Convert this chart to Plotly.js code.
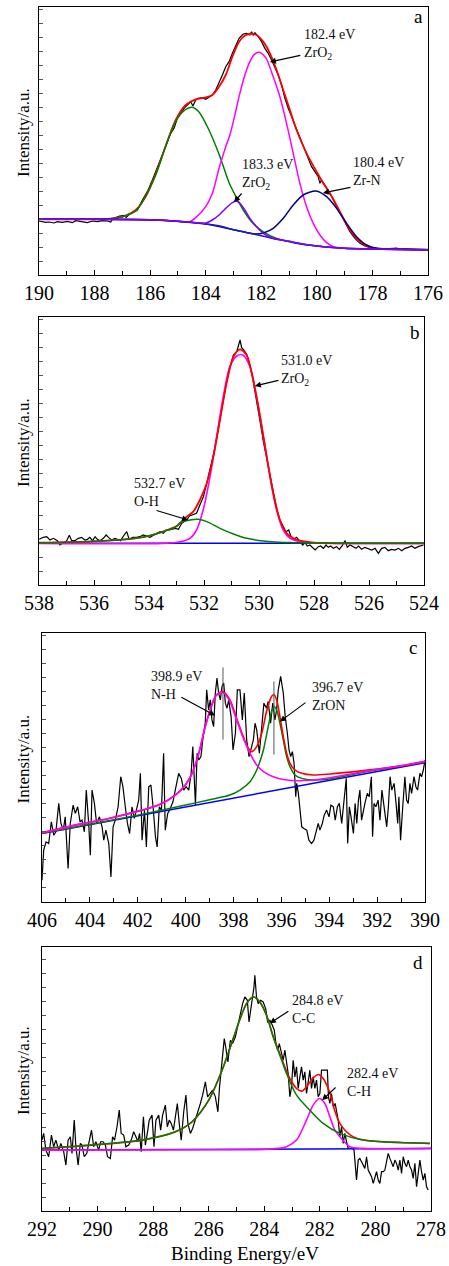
<!DOCTYPE html>
<html><head><meta charset="utf-8">
<script src="https://cdn.plot.ly/plotly-3.0.1.min.js"></script>
<style>html,body{margin:0;padding:0;background:#fff}#chart{width:449px;height:1266px}</style>
</head><body><div id="chart"></div>
<script>
// ---------- Panel a: Zr 3d ----------
const aDataX = [190.00,189.88,189.76,189.64,189.46,189.34,189.16,188.98,188.80,188.68,188.56,188.38,188.26,188.08,187.90,187.72,187.54,187.42,187.34,187.22,187.10,186.94,186.86,186.74,186.58,186.46,186.28,186.10,185.92,185.80,185.68,185.54,185.42,185.26,185.14,185.02,184.90,184.78,184.66,184.54,184.46,184.36,184.27,184.12,184.00,183.88,183.76,183.64,183.52,183.40,183.28,183.16,183.04,182.92,182.80,
182.65,182.53,182.41,182.35,182.29,182.23,182.11,181.99,181.87,181.75,181.63,181.51,181.39,181.27,181.15,181.03,180.91,180.79,180.61,180.43,180.31,180.19,180.07,179.95,179.89,179.83,179.71,179.53,179.35,179.17,178.99,178.81,178.63,178.45,178.27,178.09,177.85,177.61,177.37,177.13,177.01,176.89,176.65,176.41,176.17,176.00];
const aDataY = [162,160,158,159,156,160,158,161,157,163,161,159,157,162,160,163,162,159,169,173,177,179,173,183,190,195,225,250,285,310,335,360,390,425,440,470,485,500,510,520,507,525,530,532,527,533,540,555,575,600,625,640,665,690,710,
723,725,720,730,720,727,715,700,680,665,645,625,600,570,530,500,475,445,410,370,345,325,310,295,275,285,270,245,215,185,155,130,110,95,87,82,80,79,79,81,77,79,77,77,75,77];
const aFitX = [190,188,187.5,187.24,186.88,186.52,186.16,185.8,185.44,185.08,184.72,184.36,184.0,183.76,183.52,183.28,183.04,182.8,182.6,182.41,182.17,181.93,181.69,181.45,181.21,180.97,180.73,180.37,180.01,179.77,179.53,179.17,178.81,178.45,178.09,177.61,176.0];
const aFitY = [167,167,168,171,178,195,235,303,387,465,510,527,533,540,565,600,655,700,718,723,720,700,665,615,555,495,435,365,310,275,245,190,135,100,83,78,76];
const aBgX = [190,188,186.5,185.5,185,184.5,184,183.5,183,182.5,182,181.5,181,180.5,180,179.5,179,178,177,176];
const aBgY = [167,167,166,164,161,158,153,147,136,127,118,108,101,92,87,83,80,78,77,76];
const aP1X = [190,188,187.5,187.2,186.9,186.5,186.2,185.8,185.45,185.1,184.75,184.5,184.25,183.9,183.5,183.15,182.85,182.65,182.3,181.9,181.45,180.75,180,179,178,176];
const aP1Y = [167,167,168,171,177,193,232,300,385,458,495,503,490,438,358,275,225,195,155,128,110,95,87,80,78,76];
const aP2X = [190,186,185,184.6,184.36,184.0,183.76,183.52,183.28,183.13,182.95,182.8,182.59,182.41,182.25,182.07,181.9,181.81,181.57,181.33,181.09,180.85,180.61,180.37,180.13,179.89,179.65,179.41,179.05,178,176];
const aP2Y = [167,166,161,159,172,205,245,320,385,420,480,535,600,640,662,668,658,648,595,535,455,365,275,205,155,120,97,85,80,78,76];
const aP3X = [190,186,185,184.5,184.0,183.76,183.52,183.28,183.04,182.9,182.77,182.59,182.41,182.17,181.93,181.57,181,180,179,178,176];
const aP3Y = [167,166,161,158,156,165,180,200,217,221,215,195,170,145,125,110,101,87,80,78,76];
const aP4X = [190,186,185,184,183,182.5,182.2,181.9,181.57,181.21,180.85,180.49,180.03,179.65,179.29,178.93,178.57,178.21,177.85,177,176];
const aP4Y = [167,166,161,153,136,127,123,127,140,170,210,240,252,235,200,155,115,90,80,77,76];

// ---------- Panel b: O 1s ----------
const bDataX = [537.99,537.84,537.72,537.60,537.48,537.33,537.24,537.12,536.99,536.90,536.81,536.69,536.57,536.45,536.33,536.24,536.15,536.05,535.96,535.88,535.78,535.66,535.56,535.47,535.36,535.24,535.12,535.03,534.93,534.81,534.72,534.59,534.45,534.33,534.21,534.08,533.96,533.84,533.72,533.60,533.48,533.38,533.26,533.14,533.05,532.93,532.81,532.73,532.63,532.53,532.41,532.27,532.15,532.02,531.93,531.81,531.66,531.54,531.42,531.30,531.18,531.05,530.93,530.81,530.74,530.69,530.63,530.55,530.45,530.35,530.25,530.15,530.06,529.98,529.84,529.72,529.60,529.48,529.36,529.24,529.12,529.02,528.92,528.85,528.75,528.63,528.51,528.41,528.33,528.24,528.15,528.05,527.96,527.84,527.76,527.66,527.56,527.48,527.39,527.30,527.18,527.08,526.98,526.87,526.79,526.69,526.57,526.47,526.38,526.27,526.15,526.02,525.90,525.78,525.66,525.54,525.42,525.30,525.18,525.05,524.93,524.81,524.69,524.57,524.45,524.33,524.21,524.02];
const bDataY = [137,143,145,135,140,133,120,127,133,149,133,133,140,143,135,137,143,133,145,137,133,140,150,143,135,140,137,133,147,160,137,143,143,145,150,147,143,149,155,160,155,165,165,169,170,167,185,190,195,207,210,215,240,265,295,335,390,440,500,555,610,655,690,700,720,735,712,705,692,665,630,585,540,500,430,380,325,270,230,195,175,160,165,148,137,143,130,120,127,117,120,113,105,115,117,110,120,113,117,110,115,107,117,133,113,120,115,110,117,107,113,110,105,110,95,110,113,103,107,105,110,103,110,113,117,110,115,120];
const bFitX = [538,536,535,534.5,534,533.5,533,532.87,532.63,532.39,532.15,531.9,531.66,531.42,531.18,530.93,530.69,530.45,530.21,529.96,529.72,529.48,529.24,528.99,528.75,528.51,528,527,524];
const bFitY = [127,131,136,140,147,160,176,185,205,220,255,305,385,495,605,685,707,690,615,505,385,275,195,155,140,133,127,125,125];
const bP1X = [538,533.5,532.87,532.51,532.27,532.03,531.78,531.54,531.3,531.06,530.81,530.59,530.33,530.09,529.84,529.6,529.36,529.12,528.87,528.51,528,524];
const bP1Y = [125,125,130,140,165,225,325,445,565,655,687,690,655,565,445,325,225,165,140,130,126,125];
const bP2X = [538,537,536,535,534.5,534,533.5,533,532.87,532.51,532.21,531.9,531.42,530.93,530.45,529.84,529.24,528.75,528,527,524];
const bP2Y = [126,128,131,136,140,148,160,176,187,195,197,190,170,153,140,132,128,127,126,125,125];
const bBgX = [538,524];
const bBgY = [125,125];

// ---------- Panel c: N 1s ----------
const cDataX = [406.00,405.93,405.83,405.72,405.61,405.51,405.42,405.30,405.21,405.11,405.03,404.91,404.82,404.70,404.61,404.51,404.41,404.33,404.23,404.15,404.05,403.98,403.91,403.81,403.72,403.60,403.49,403.42,403.33,403.21,403.12,403.03,402.94,402.82,402.71,402.62,402.52,402.43,402.34,402.24,402.14,402.06,401.96,401.89,401.82,401.72,401.64,401.54,401.45,401.36,401.26,401.19,401.10,401.01,400.92,400.85,400.75,400.67,400.60,400.53,400.46,400.39,400.29,400.18,400.08,399.98,399.87,399.77,399.70,399.59,399.52,399.45,399.36,399.27,399.18,399.12,399.04,398.97,398.90,398.83,398.76,398.69,398.62,398.55,398.48,398.41,398.34,398.27,398.20,398.10,398.02,397.92,
397.84,397.73,397.63,397.55,397.45,397.35,397.27,397.17,397.10,397.03,396.92,396.82,396.73,396.62,396.55,396.45,396.36,396.27,396.20,396.13,396.03,395.92,395.84,395.75,395.68,395.61,395.54,395.47,395.40,395.36,395.29,395.22,395.15,395.06,394.94,394.85,394.74,394.64,394.55,394.46,394.39,394.29,394.21,394.11,394.01,393.93,393.83,393.75,393.66,393.58,393.48,393.41,393.34,393.29,393.23,393.16,393.09,392.99,392.92,392.85,392.78,392.72,392.65,392.58,392.51,392.41,392.33,392.24,392.19,392.13,392.05,391.96,391.88,391.80,391.71,391.60,391.53,391.46,391.39,391.29,391.21,391.14,391.09,391.02,390.93,390.84,390.77,390.70,390.63,390.56,390.46,390.38,390.31,390.21,390.14,390.07,390.00];
const cDataY = [65,155,180,175,240,200,210,295,235,215,255,100,235,290,265,285,240,245,210,335,235,140,335,295,235,255,225,185,215,175,75,225,245,285,375,345,285,235,205,285,250,275,305,385,185,275,165,345,350,285,195,165,285,275,445,215,265,275,285,300,325,355,385,370,335,345,335,385,465,290,445,425,435,495,535,635,575,605,545,525,625,670,625,605,645,655,595,580,605,555,455,505,
635,635,545,625,485,435,455,485,535,515,445,525,595,580,600,535,595,545,575,635,675,625,555,505,455,435,450,415,315,355,325,275,225,220,215,185,175,185,215,235,215,235,260,275,255,290,285,245,285,295,235,285,315,370,175,285,255,205,295,235,305,335,245,275,295,325,315,375,195,295,285,305,245,335,285,225,285,375,335,355,295,235,315,185,285,375,305,295,355,325,375,345,335,385,375,395,425];
const cFitX = [406,404.61,403.21,401.82,401.13,400.43,400.01,399.73,399.45,399.18,398.97,398.76,398.55,398.44,398.15,397.87,397.59,397.38,397.24,397.03,396.82,396.62,396.41,396.31,396.2,396.06,395.92,395.78,395.64,395.43,395.15,394.67,393.97,392.58,391.18,390];
const cFitY = [207,230,250,275,290,320,350,385,445,525,575,615,628,630,605,550,495,460,450,465,505,570,615,620,605,555,495,445,415,395,385,380,383,393,405,420];
const cP1X = [406,404,402,400,399,398.15,397.73,397.31,397.03,396.75,396.55,396.41,396.31,396.2,396.06,395.92,395.78,395.64,395.43,395.15,394.67,393.97,392.58,391.18,390];
const cP1Y = [206,233,260,290,306,320,335,360,395,455,525,570,585,575,535,485,435,405,380,370,365,368,388,405,419];
const cP2X = [406,404.61,403.21,401.82,401.13,400.43,400.01,399.73,399.45,399.18,398.97,398.76,398.55,398.41,398.15,397.87,397.59,397.31,397.03,396.75,396.34,395.78,395.36,394.67,393.97,392.58,391.18,390];
const cP2Y = [207,230,250,275,290,320,350,385,445,525,575,615,627,625,600,545,490,445,410,390,375,365,363,365,372,390,406,421];
const cBgX = [406,390];
const cBgY = [205,417];
const cMarkX = [398.44,396.31];
const cMarkLo = [486,441];
const cMarkHi = [702,660];

// ---------- Panel d: C 1s ----------
const dDataX = [292.00,291.94,291.86,291.76,291.66,291.58,291.50,291.40,291.32,291.22,291.14,291.06,290.98,290.92,290.84,290.78,290.70,290.62,290.56,290.48,290.39,290.32,290.22,290.14,290.06,289.96,289.89,289.80,289.72,289.64,289.54,289.46,289.39,289.30,289.22,289.15,289.06,288.98,288.88,288.79,288.70,288.62,288.55,288.49,288.43,288.35,288.28,288.21,288.14,288.04,287.97,287.90,287.80,287.73,287.66,287.56,287.49,287.42,287.35,287.27,287.20,287.13,287.06,286.99,286.90,286.82,286.75,286.66,286.58,286.48,286.39,286.30,286.22,286.12,286.04,285.94,285.86,285.76,285.67,285.61,285.52,285.44,285.38,285.31,285.22,285.14,285.04,
284.88,284.78,284.70,284.61,284.55,284.49,284.43,284.37,284.34,284.28,284.22,284.13,284.04,283.95,283.88,283.80,283.71,283.64,283.58,283.52,283.46,283.38,283.32,283.26,283.20,283.14,283.08,283.02,282.96,282.90,282.84,282.78,282.72,282.66,282.60,282.54,282.48,282.42,282.36,282.30,282.24,282.18,282.12,282.06,282.00,281.94,281.82,281.73,281.69,281.64,281.58,281.52,281.45,281.40,281.34,281.28,281.22,281.16,281.10,281.04,280.98,280.89,280.82,280.77,280.73,280.68,280.62,280.56,280.50,280.44,280.38,280.32,280.26,280.20,280.14,280.08,280.01,279.96,279.90,279.84,279.78,279.72,279.66,279.60,279.54,279.48,279.42,279.36,279.30,279.24,279.18,279.12,279.06,279.00,278.94,278.88,278.82,278.76,278.70,278.64,278.58,278.52,278.46,278.40,278.34,278.28,278.22,278.16,278.10];
const dDataY = [213,233,183,163,228,193,213,183,203,178,138,213,223,173,273,193,138,203,198,163,173,198,243,193,208,183,208,208,198,163,158,223,213,253,303,233,228,193,198,213,238,223,208,233,178,283,198,233,273,288,193,273,288,243,288,318,253,273,263,243,283,323,263,213,298,348,263,233,248,273,298,323,348,388,343,353,363,343,298,373,453,518,488,448,513,503,523,
588,623,643,633,568,603,643,673,708,643,623,633,628,608,568,573,558,543,503,483,503,473,453,483,453,413,343,373,453,403,433,368,403,433,393,418,353,393,423,368,403,368,393,343,353,423,423,423,343,323,353,313,323,298,273,223,253,203,233,208,188,188,188,183,133,93,153,158,148,138,128,163,123,113,103,83,103,118,93,83,118,118,123,153,173,158,143,133,153,143,123,153,113,163,143,133,153,133,123,98,143,73,113,153,118,93,113,73,63];
const dFitX = [292,290.2,288.4,287.2,286.6,286.0,285.52,285.11,284.88,284.64,284.4,284.16,283.92,283.68,283.44,283.2,283.08,282.84,282.65,282.48,282.24,282.05,281.88,281.64,281.46,281.28,280.9,280.44,278.04];
const dFitY = [188,198,213,238,268,333,423,520,575,623,643,628,588,525,472,420,398,368,360,373,400,410,398,355,300,263,228,213,203];
const dP1X = [292,290.2,288.4,287.2,286.6,286.0,285.52,285.11,284.88,284.64,284.4,284.16,283.92,283.68,283.44,283.2,282.84,282.48,281.88,281.28,280.44,278.04];
const dP1Y = [188,198,213,238,268,333,423,520,575,623,643,628,588,523,468,413,348,313,263,233,213,203];
const dP2X = [292,286,284,283.5,283.2,282.84,282.48,282.24,282.02,281.82,281.64,281.46,281.28,280.92,280.44,278];
const dP2Y = [183,184,185,188,193,213,273,318,338,323,283,243,223,193,188,188];
const dBgX = [292,278];
const dBgY = [183,188];

// ---------- text ----------
const tickFontSize = 20;
const yTitle = 'Intensity/a.u.';
const xTitle = 'Binding Energy/eV';

const FONT = '"Liberation Serif", "Times New Roman", Times, serif';
const W = 449, H = 1266;
const boxes = [ // plot areas: [left, right, top, bottom]
  [39, 428, 7, 275],
  [39, 424, 317, 585],
  [42, 425, 633, 902],
  [42, 431, 947, 1211]
];
const xRanges = [[190,176],[538,524],[406,390],[292,278]];
const yRanges = [[0,804],[0,804],[0,805],[0,793]];

function ax(n){ return n===1 ? '' : String(n); }
function tr(x, y, color, width, n, smooth){
  return {type:'scatter', mode:'lines', x:x, y:y, xaxis:'x'+ax(n), yaxis:'y'+ax(n),
    line:{color:color, width:width, shape: smooth ? 'spline' : 'linear', smoothing: smooth ? 0.8 : 0},
    showlegend:false, hoverinfo:'skip'};
}
const BLK='#000000', RED='#ff0000', GRN='#008000', MAG='#ff00ff', PUR='#8000ff', NAV='#000080', BLU='#0000ff';
const traces = [
  tr(aDataX,aDataY,BLK,1.2,1,false),
  tr(aFitX,aFitY,RED,1.8,1,true),
  tr(aP1X,aP1Y,GRN,1.5,1,true),
  tr(aP2X,aP2Y,MAG,1.5,1,true),
  tr(aP4X,aP4Y,NAV,1.5,1,true),
  tr(aBgX,aBgY,'#1a1acc',1.5,1,true),
  tr(aP3X,aP3Y,PUR,1.5,1,true),

  tr(bDataX,bDataY,BLK,1.2,2,false),
  tr(bBgX,bBgY,BLU,1.5,2,false),
  tr(bP1X,bP1Y,MAG,1.6,2,true),
  tr(bFitX,bFitY,RED,1.8,2,true),
  tr(bP2X,bP2Y,GRN,1.5,2,true),

  tr(cDataX,cDataY,BLK,1.2,3,false),
  tr(cBgX,cBgY,BLU,1.5,3,false),
  tr(cP1X,cP1Y,GRN,1.5,3,true),
  tr(cFitX,cFitY,RED,1.6,3,true),
  tr(cP2X,cP2Y,MAG,1.6,3,true),

  tr(dDataX,dDataY,BLK,1.2,4,false),
  tr(dBgX,dBgY,BLU,1.5,4,false),
  tr(dFitX,dFitY,RED,1.6,4,true),
  tr(dP2X,dP2Y,MAG,1.6,4,true),
  tr(dP1X,dP1Y,GRN,1.5,4,true)
];
for (let i=0;i<cMarkX.length;i++){
  traces.push(tr([cMarkX[i],cMarkX[i]],[cMarkLo[i],cMarkHi[i]],'#555555',1,3,false));
}

const layout = {width:W, height:H, margin:{l:0,r:0,t:0,b:0}, paper_bgcolor:'#fff', plot_bgcolor:'#fff',
  font:{family:FONT, color:'#000'}, showlegend:false, hovermode:false, annotations:[]};
boxes.forEach((b,i)=>{
  const n=i+1;
  layout['xaxis'+ax(n)] = {domain:[b[0]/W, b[1]/W], range:xRanges[i], anchor:'y'+ax(n),
    showline:true, linecolor:'#000', linewidth:1.2, mirror:true, showgrid:false, zeroline:false,
    ticks:'inside', ticklen:5, tickwidth:1, tickcolor:'#000', tick0:0, dtick:2,
    minor:{dtick:1, ticks:'inside', ticklen:4, tickwidth:1, tickcolor:'#000'},
    tickfont:{family:FONT, size:tickFontSize, color:'#000'}, ticklabelstandoff:0};
  layout['yaxis'+ax(n)] = {domain:[1-b[3]/H, 1-b[2]/H], range:yRanges[i], anchor:'x'+ax(n),
    showline:true, linecolor:'#000', linewidth:1.2, mirror:true, showgrid:false, zeroline:false,
    showticklabels:false, ticks:'inside', ticklen:4, tickwidth:1, tickcolor:'#555', tick0:0, dtick:42};
  layout.annotations.push({xref:'paper', yref:'paper', x:23/W, y:1-((b[2]+b[3])/2 - 8)/H, text:yTitle,
    textangle:-90, showarrow:false, font:{family:FONT, size:17, color:'#000'}, xanchor:'center', yanchor:'middle'});
});
layout.annotations.push({xref:'paper', yref:'paper', x:245/W, y:1-1253/H, text:xTitle, showarrow:false,
  font:{family:FONT, size:19, color:'#000'}, xanchor:'center', yanchor:'middle'});

function label(n, x, y, text, size){
  return {xref:'x'+ax(n), yref:'y'+ax(n), x:x, y:y, text:text, showarrow:false, xanchor:'left', yanchor:'middle',
    align:'left', font:{family:FONT, size:size||14, color:'#111'}};
}
function arrow(n, hx, hy, tx, ty){
  return {xref:'x'+ax(n), yref:'y'+ax(n), axref:'x'+ax(n), ayref:'y'+ax(n), x:hx, y:hy, ax:tx, ay:ty,
    text:'', showarrow:true, arrowhead:2, arrowsize:1, arrowwidth:1.2, arrowcolor:'#000'};
}
function corner(n, x, y, text){
  return {xref:'x'+ax(n), yref:'y'+ax(n), x:x, y:y, text:text, showarrow:false, xanchor:'center', yanchor:'middle',
    font:{family:FONT, size:19, color:'#000'}};
}
layout.annotations.push(
  label(1,180.54,690,'182.4 eV<br>ZrO<sub>2</sub>'), arrow(1,181.69,639,180.54,660),
  label(1,182.77,300,'183.3 eV<br>ZrO<sub>2</sub>'), arrow(1,182.98,219,182.66,249),
  label(1,178.77,309,'180.4 eV<br>Zr-N'), arrow(1,179.78,246,178.74,264),
  corner(1,176.33,774,'a'),
  label(2,529.27,645,'531.0 eV<br>ZrO<sub>2</sub>'), arrow(2,530.15,597,529.24,615),
  label(2,534.62,279,'532.7 eV<br>O-H'), arrow(2,532.58,195,533.78,225),
  corner(2,524.33,759,'b'),
  label(3,401.53,648,'398.9 eV<br>N-H'), arrow(3,398.77,558,400.24,615),
  label(3,394.81,615,'396.7 eV<br>ZrON'), arrow(3,396.06,540,394.93,600),
  corner(3,390.5,762,'c'),
  label(4,283.08,606,'284.8 eV<br>C-C'), arrow(4,283.80,564,283.08,603),
  label(4,281.10,387,'282.4 eV<br>C-H'), arrow(4,281.92,333,281.38,375),
  corner(4,278.47,747,'d')
);

Plotly.newPlot('chart', traces, layout, {staticPlot:true, displayModeBar:false});
</script>
</body></html>
